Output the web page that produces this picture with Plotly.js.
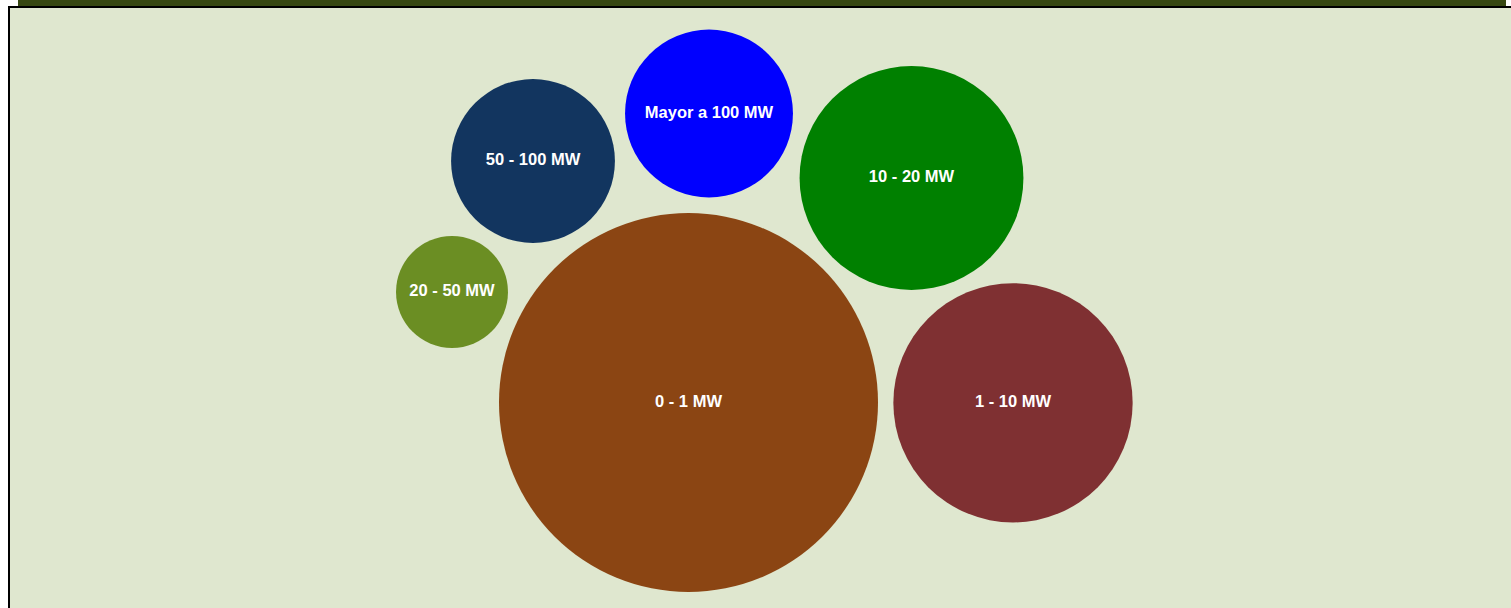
<!DOCTYPE html>
<html>
<head>
<meta charset="utf-8">
<script src="https://cdn.plot.ly/plotly-3.0.1.min.js"></script>
<style>
  html, body { margin: 0; padding: 0; background: #ffffff; overflow: hidden; width: 1511px; height: 608px; }
  #topbar { position: absolute; left: 18px; top: 0; width: 1488px; height: 6px; background: #374812; }
  #box { position: absolute; left: 8px; top: 6px; width: 1600px; height: 700px; border: 2px solid #000; background: #dfe7cf; }
  #chart { position: absolute; left: 10px; top: 8px; width: 1501px; height: 600px; }
</style>
</head>
<body>
<div id="topbar"></div>
<div id="box"></div>
<div id="chart"></div>
<script>
// Categories (capacity ranges) and their values (bubble area)
var categories = ["0 - 1 MW", "1 - 10 MW", "10 - 20 MW", "Mayor a 100 MW", "50 - 100 MW", "20 - 50 MW"];
var values     = [321, 128, 112, 63, 60, 28];
// Packed-bubble placement (data units on hidden axes)
var posX = [688.5, 1013, 911.5, 709, 533, 452];
var posY = [402.5, 402.8, 178, 113.5, 161, 292];
var colors = ["#8B4513", "#7F3032", "#008000", "#0000FF", "#12355F", "#6B8E23"];

var maxRadius = 189.5;
var maxVal = Math.max.apply(null, values);
var sizeref = maxVal / (2 * maxRadius * maxRadius);

var trace = {
  type: "scatter",
  mode: "markers+text",
  x: posX,
  y: posY,
  text: categories,
  textposition: "middle center",
  textfont: { family: "Liberation Sans, Arial, sans-serif", size: 16.5, color: "#ffffff", weight: "bold" },
  marker: {
    size: values,
    sizemode: "area",
    sizeref: sizeref,
    color: colors,
    opacity: 1,
    line: { width: 0 }
  },
  hoverinfo: "text",
  cliponaxis: false
};

var layout = {
  width: 1501,
  height: 600,
  margin: { l: 0, r: 0, t: 0, b: 0 },
  paper_bgcolor: "rgba(0,0,0,0)",
  plot_bgcolor: "rgba(0,0,0,0)",
  showlegend: false,
  xaxis: { range: [10, 1511], visible: false, fixedrange: true },
  yaxis: { range: [608, 8], visible: false, fixedrange: true }
};

Plotly.newPlot("chart", [trace], layout, { displayModeBar: false, staticPlot: true });
</script>
</body>
</html>
